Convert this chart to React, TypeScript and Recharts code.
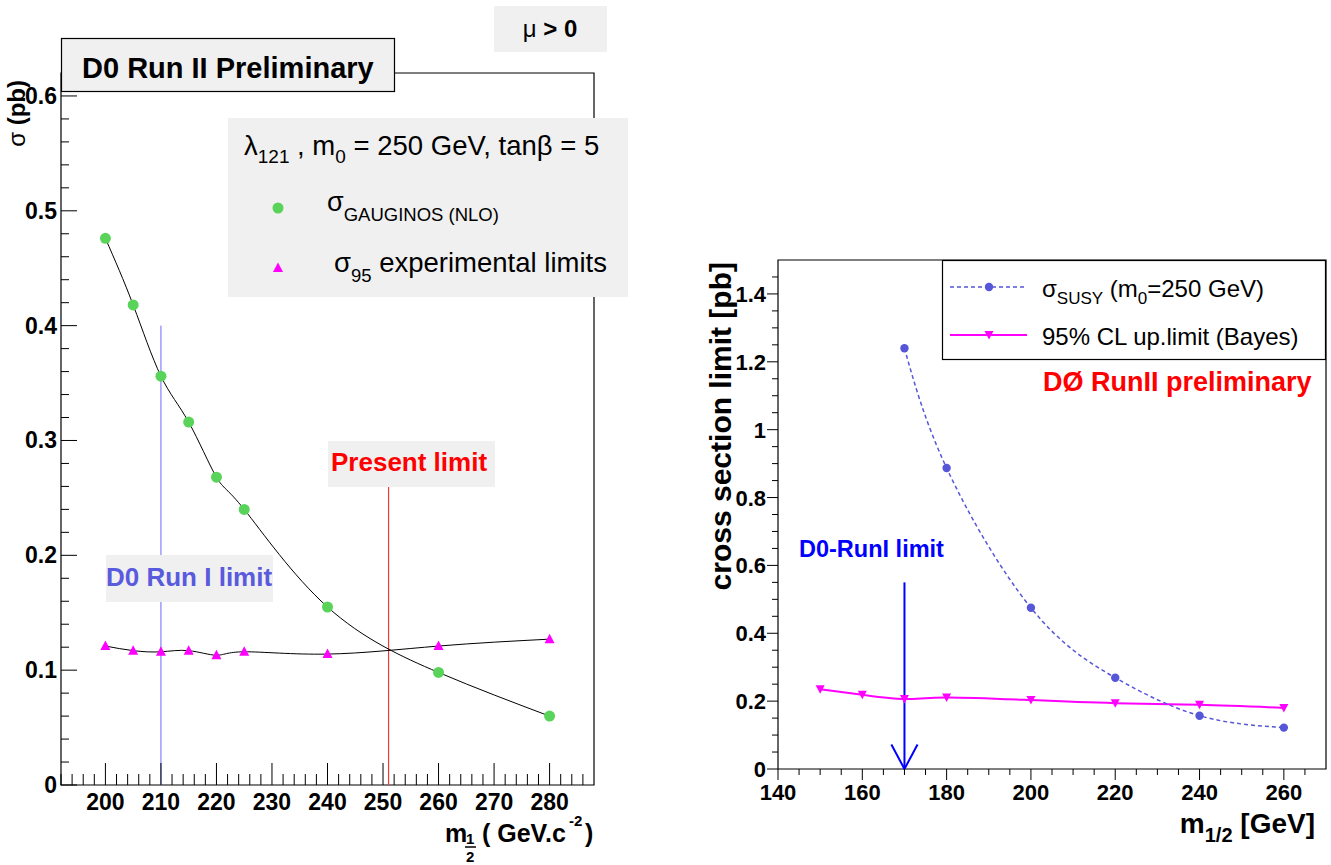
import { ComposedChart, Line, XAxis, YAxis, ReferenceLine, ReferenceArea } from 'recharts';

// ---------------------------------------------------------------------------
// Data
// ---------------------------------------------------------------------------

const FONT = '"Liberation Sans", Arial, Helvetica, sans-serif';

// left panel: sigma(gauginos) and sigma95 vs m1/2
const leftM12 = [200, 205, 210, 215, 220, 225, 240, 260, 280];
const leftSigmaGauginos = [0.476, 0.418, 0.356, 0.316, 0.268, 0.24, 0.155, 0.098, 0.06];
const leftSigma95 = [0.121, 0.117, 0.116, 0.117, 0.113, 0.116, 0.114, 0.121, 0.127];
const leftXLabels = [200, 210, 220, 230, 240, 250, 260, 270, 280];
const leftYLabels = [0, 0.1, 0.2, 0.3, 0.4, 0.5, 0.6];
const leftXDomain = [192, 288];
const leftYDomain = [0, 0.62];
const runILimitM12 = 210;
const runILimitTop = 0.4;
const presentLimitM12 = 251;
const presentLimitTop = 0.26;

// right panel: sigma(SUSY) and 95% CL upper limit vs m1/2
const rightSusyM12 = [170, 180, 200, 220, 240, 260];
const rightSigmaSusy = [1.24, 0.887, 0.475, 0.269, 0.157, 0.122];
const rightLimitM12 = [150, 160, 170, 180, 200, 220, 240, 260];
const rightLimit95 = [0.235, 0.219, 0.206, 0.211, 0.203, 0.194, 0.189, 0.18];
const rightXLabels = [140, 160, 180, 200, 220, 240, 260];
const rightYLabels = [0, 0.2, 0.4, 0.6, 0.8, 1, 1.2, 1.4];
const rightXDomain = [140, 270];
const rightYDomain = [0, 1.5];
const runIArrowM12 = 170;
const runIArrowTop = 0.55;
const arrowHeadHalf = 3.1;
const arrowHeadDepth = 0.072;

// ---------------------------------------------------------------------------
// Helpers
// ---------------------------------------------------------------------------

function steps(from: number, to: number, step: number): number[] {
  const out: number[] = [];
  const n = Math.round((to - from) / step);
  for (let i = 0; i <= n; i++) out.push(+(from + i * step).toFixed(4));
  return out;
}

const isIn = (list: number[], v: number) => list.some(l => Math.abs(l - v) < 1e-6);

const toPoints = (xs: number[], ys: number[]) => xs.map((x, i) => ({ x, y: ys[i] }));

const gauginoData = toPoints(leftM12, leftSigmaGauginos);
const sigma95Data = toPoints(leftM12, leftSigma95);
const susyData = toPoints(rightSusyM12, rightSigmaSusy);
const limitData = toPoints(rightLimitM12, rightLimit95);

const leftXTicks = steps(192, 286, 2);
const leftYTicks = steps(0, 0.6, 0.02);
const rightXTicks = steps(140, 265, 5);
const rightYTicks = steps(0, 1.45, 0.05);

const GREEN = '#5ad35a';
const MAGENTA = '#ff00ff';
const SUSY_BLUE = '#5656d9';

// ---------------------------------------------------------------------------
// Ticks (ROOT style: minor + major, labels only on majors)
// ---------------------------------------------------------------------------

function LeftXTick({ x, y, payload }: any) {
  const v = payload.value;
  const major = isIn(leftXLabels, v);
  return (
    <g>
      <line x1={x} x2={x} y1={y} y2={y - (major ? 22 : 11)} stroke="#000" />
      {major && (
        <text x={x} y={y + 25} textAnchor="middle" fontFamily={FONT} fontWeight="bold" fontSize={23} fill="#000">
          {v}
        </text>
      )}
    </g>
  );
}

function LeftYTick({ x, y, payload }: any) {
  const v = payload.value;
  const major = isIn(leftYLabels, v);
  return (
    <g>
      <line x1={x} x2={x + (major ? 16 : 8)} y1={y} y2={y} stroke="#000" />
      {major && (
        <text x={x - 4} y={y + 8} textAnchor="end" fontFamily={FONT} fontWeight="bold" fontSize={23} fill="#000">
          {v}
        </text>
      )}
    </g>
  );
}

function RightXTick({ x, y, payload }: any) {
  const v = payload.value;
  const major = Math.abs(v % 20) < 1e-6;
  return (
    <g>
      <line x1={x} x2={x} y1={y} y2={y + (major ? 11 : 6)} stroke="#000" />
      {isIn(rightXLabels, v) && (
        <text x={x} y={y + 31} textAnchor="middle" fontFamily={FONT} fontWeight="bold" fontSize={22} fill="#000">
          {v}
        </text>
      )}
    </g>
  );
}

function RightYTick({ x, y, payload }: any) {
  const v = payload.value;
  const major = isIn(rightYLabels, v);
  return (
    <g>
      <line x1={x} x2={x - (major ? 11 : 6)} y1={y} y2={y} stroke="#000" />
      {major && (
        <text x={x - 12} y={y + 8} textAnchor="end" fontFamily={FONT} fontWeight="bold" fontSize={22} fill="#000">
          {v}
        </text>
      )}
    </g>
  );
}

// ---------------------------------------------------------------------------
// Markers
// ---------------------------------------------------------------------------

const greenDot = (p: any) => <circle key={`gd-${p.index}`} cx={p.cx} cy={p.cy} r={5.5} fill={GREEN} />;

const upTriangle = (p: any) => (
  <polygon
    key={`ut-${p.index}`}
    points={`${p.cx},${p.cy - 5.5} ${p.cx - 5},${p.cy + 4} ${p.cx + 5},${p.cy + 4}`}
    fill={MAGENTA}
  />
);

const blueDot = (p: any) => <circle key={`bd-${p.index}`} cx={p.cx} cy={p.cy} r={4.2} fill={SUSY_BLUE} />;

const downTriangle = (p: any) => (
  <polygon
    key={`dt-${p.index}`}
    points={`${p.cx - 4.5},${p.cy - 4} ${p.cx + 4.5},${p.cy - 4} ${p.cx},${p.cy + 4.5}`}
    fill={MAGENTA}
  />
);

// ---------------------------------------------------------------------------
// Component
// ---------------------------------------------------------------------------

export default function App() {
  return (
    <div style={{ position: 'absolute', left: 0, top: 0, width: 1331, height: 865, background: '#fff', overflow: 'hidden' }}>
      {/* Left panel */}
      <div style={{ position: 'absolute', left: 0, top: 0 }}>
        <ComposedChart width={640} height={865} margin={{ top: 73, right: 46, bottom: 40, left: 11 }}>
          <XAxis
            type="number"
            dataKey="x"
            domain={leftXDomain}
            ticks={leftXTicks}
            interval={0}
            tick={LeftXTick}
            tickSize={0}
            tickMargin={0}
            tickLine={false}
            axisLine={false}
            height={40}
            allowDataOverflow
          />
          <YAxis
            type="number"
            domain={leftYDomain}
            ticks={leftYTicks}
            interval={0}
            tick={LeftYTick}
            tickSize={0}
            tickMargin={0}
            tickLine={false}
            axisLine={false}
            width={50}
            allowDataOverflow
          />
          <ReferenceArea
            x1={leftXDomain[0]}
            x2={leftXDomain[1]}
            y1={leftYDomain[0]}
            y2={leftYDomain[1]}
            fill="none"
            stroke="#000"
            strokeWidth={1.2}
            ifOverflow="visible"
          />
          <ReferenceLine
            segment={[{ x: runILimitM12, y: 0 }, { x: runILimitM12, y: runILimitTop }]}
            stroke="#6a6af2"
            strokeWidth={1}
          />
          <ReferenceLine
            segment={[{ x: presentLimitM12, y: 0 }, { x: presentLimitM12, y: presentLimitTop }]}
            stroke="#f03a3a"
            strokeWidth={1.2}
          />
          <Line data={gauginoData} dataKey="y" type="natural" stroke="#000" strokeWidth={1} dot={greenDot} activeDot={false} isAnimationActive={false} />
          <Line data={sigma95Data} dataKey="y" type="natural" stroke="#000" strokeWidth={1} dot={upTriangle} activeDot={false} isAnimationActive={false} />
        </ComposedChart>
      </div>

      {/* Right panel */}
      <div style={{ position: 'absolute', left: 660, top: 0 }}>
        <ComposedChart width={671} height={865} margin={{ top: 260, right: 5, bottom: 56, left: 58 }}>
          <XAxis
            type="number"
            dataKey="x"
            domain={rightXDomain}
            ticks={rightXTicks}
            interval={0}
            tick={RightXTick}
            tickSize={0}
            tickMargin={0}
            tickLine={false}
            axisLine={false}
            height={40}
            allowDataOverflow
          />
          <YAxis
            type="number"
            domain={rightYDomain}
            ticks={rightYTicks}
            interval={0}
            tick={RightYTick}
            tickSize={0}
            tickMargin={0}
            tickLine={false}
            axisLine={false}
            width={60}
            allowDataOverflow
          />
          <ReferenceArea
            x1={rightXDomain[0]}
            x2={rightXDomain[1]}
            y1={rightYDomain[0]}
            y2={rightYDomain[1]}
            fill="none"
            stroke="#000"
            strokeWidth={1.2}
            ifOverflow="visible"
          />
          <Line data={limitData} dataKey="y" type="natural" stroke={MAGENTA} strokeWidth={2} dot={downTriangle} activeDot={false} isAnimationActive={false} />
          <Line data={susyData} dataKey="y" type="natural" stroke={SUSY_BLUE} strokeWidth={1.5} strokeDasharray="4 3" dot={blueDot} activeDot={false} isAnimationActive={false} />
          <ReferenceLine
            segment={[{ x: runIArrowM12, y: runIArrowTop }, { x: runIArrowM12, y: 0 }]}
            stroke="#0000ff"
            strokeWidth={2}
          />
          <ReferenceLine
            segment={[{ x: runIArrowM12 - arrowHeadHalf, y: arrowHeadDepth }, { x: runIArrowM12, y: 0 }]}
            stroke="#0000ff"
            strokeWidth={2}
          />
          <ReferenceLine
            segment={[{ x: runIArrowM12 + arrowHeadHalf, y: arrowHeadDepth }, { x: runIArrowM12, y: 0 }]}
            stroke="#0000ff"
            strokeWidth={2}
          />
        </ComposedChart>
      </div>

      {/* Annotations */}
      <svg width={1331} height={865} style={{ position: 'absolute', left: 0, top: 0, pointerEvents: 'none' }} fontFamily={FONT}>
        {/* left panel */}
        <rect x={494} y={6} width={113} height={46} fill="#f0f0f0" />
        <text x={550} y={37} textAnchor="middle" fontSize={24} fill="#000">
          μ<tspan fontWeight="bold"> &gt; 0</tspan>
        </text>

        <rect x={61.5} y={38.5} width={333} height={53} fill="#f0f0f0" stroke="#000" strokeWidth={1.2} />
        <text x={82} y={78} fontSize={29} fontWeight="bold" fill="#000">D0 Run II Preliminary</text>

        <rect x={228} y={118} width={400} height={179} fill="#f0f0f0" />
        <text x={244} y={155} fontSize={27.5} fill="#000">
          λ<tspan dy={8} fontSize={19}>121</tspan>
          <tspan dy={-8}> , m</tspan>
          <tspan dy={8} fontSize={19}>0</tspan>
          <tspan dy={-8}> = 250 GeV, tanβ = 5</tspan>
        </text>
        <circle cx={278} cy={208} r={5.5} fill={GREEN} />
        <text x={327} y={211} fontSize={27} fill="#000">
          σ<tspan dy={10} fontSize={18.5}>GAUGINOS (NLO)</tspan>
        </text>
        <polygon points="278,262.5 273,272 283,272" fill={MAGENTA} />
        <text x={334} y={272} fontSize={27.5} fill="#000">
          σ<tspan dy={10} fontSize={18.5}>95</tspan>
          <tspan dy={-10}> experimental limits</tspan>
        </text>

        <rect x={106} y={555} width={167} height={47} fill="#f0f0f0" />
        <text x={106} y={586} fontSize={26} fontWeight="bold" fill="#5a5ade">D0 Run I limit</text>

        <rect x={328} y={441} width={167} height={46} fill="#f0f0f0" />
        <text x={331} y={471} fontSize={26} fontWeight="bold" fill="#ff0000">Present limit</text>

        <text transform="translate(25,80) rotate(-90)" textAnchor="end" fontSize={24} fill="#000">
          σ<tspan fontWeight="bold"> (pb)</tspan>
        </text>

        <g fontWeight="bold" fill="#000">
          <text x={445} y={842} fontSize={25}>m</text>
          <text x={466} y={844} fontSize={15}>1</text>
          <line x1={465} x2={476} y1={847} y2={847} stroke="#000" strokeWidth={1.5} />
          <text x={466} y={862} fontSize={15}>2</text>
          <text x={482} y={842} fontSize={25}>( GeV.c</text>
          <text x={569} y={826} fontSize={15}>-2</text>
          <text x={585} y={842} fontSize={25}>)</text>
        </g>

        {/* right panel */}
        <rect x={942.5} y={260.5} width={383} height={99} fill="#fff" stroke="#000" strokeWidth={1.2} />
        <line x1={950} x2={1027} y1={287} y2={287} stroke={SUSY_BLUE} strokeWidth={1.5} strokeDasharray="4 3" />
        <circle cx={989} cy={287} r={4.2} fill={SUSY_BLUE} />
        <text x={1042} y={297} fontSize={24} fill="#000">
          σ<tspan dy={7} fontSize={17}>SUSY</tspan>
          <tspan dy={-7}> (m</tspan>
          <tspan dy={7} fontSize={17}>0</tspan>
          <tspan dy={-7}>=250 GeV)</tspan>
        </text>
        <line x1={950} x2={1027} y1={335} y2={335} stroke={MAGENTA} strokeWidth={2} />
        <polygon points="984.5,331 993.5,331 989,339.5" fill={MAGENTA} />
        <text x={1042} y={345} fontSize={24} fill="#000">95% CL up.limit (Bayes)</text>

        <text x={1043} y={391} fontSize={27} fontWeight="bold" fill="#ff0000">DØ RunII preliminary</text>
        <text x={799} y={557} fontSize={23.5} fontWeight="bold" fill="#0000ff">D0-RunI limit</text>

        <text transform="translate(731,262) rotate(-90)" textAnchor="end" fontSize={30} fontWeight="bold" fill="#000">
          cross section limit [pb]
        </text>
        <text x={1315} y={833} textAnchor="end" fontSize={28} fontWeight="bold" fill="#000">
          m<tspan dy={9} fontSize={20}>1/2</tspan>
          <tspan dy={-9}> [GeV]</tspan>
        </text>
      </svg>
    </div>
  );
}
